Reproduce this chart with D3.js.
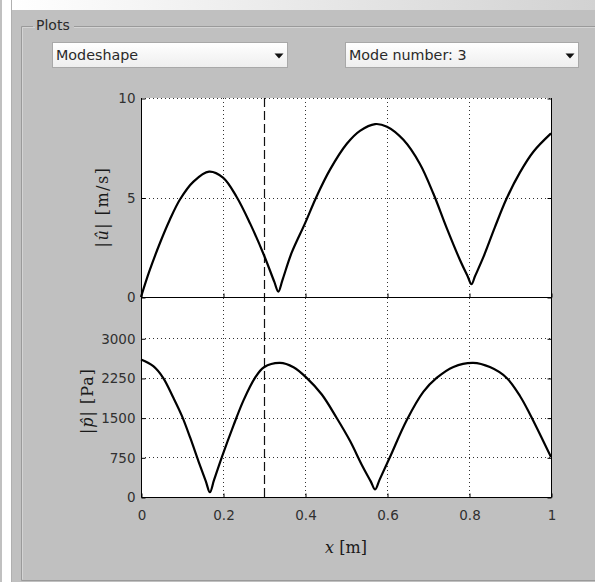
<!DOCTYPE html>
<html>
<head>
<meta charset="utf-8">
<script src="https://cdn.jsdelivr.net/npm/d3@7"></script>
<style>
  html, body { margin: 0; padding: 0; background: #c0c0c0; }
  svg { display: block; }
  .tick text { font-family: "DejaVu Sans", sans-serif; font-size: 13.5px; fill: #303030; }
</style>
</head>
<body>
<svg id="fig" width="595" height="582"></svg>
<script>
// Velocity amplitude |û| along the duct (m/s)
const xU   = [0, 0.02, 0.046, 0.07, 0.095, 0.128, 0.166, 0.2, 0.233, 0.266, 0.3, 0.325, 0.335, 0.345, 0.367, 0.4, 0.428, 0.461, 0.502, 0.534, 0.571, 0.6, 0.64, 0.68, 0.713, 0.745, 0.778, 0.797, 0.806, 0.815, 0.835, 0.863, 0.892, 0.924, 0.957, 1.0];
const uAbs = [0, 1.27, 2.7, 3.87, 4.9, 5.8, 6.3, 6.0, 5.04, 3.7, 2.1, 0.77, 0.27, 0.85, 2.2, 3.7, 5.04, 6.4, 7.7, 8.35, 8.69, 8.56, 7.9, 6.7, 5.2, 3.5, 1.86, 1.03, 0.64, 1.06, 2.0, 3.5, 4.96, 6.25, 7.3, 8.22];

// Pressure amplitude |p̂| along the duct (Pa)
const xP   = [0, 0.03, 0.054, 0.079, 0.1, 0.12, 0.14, 0.158, 0.168, 0.178, 0.197, 0.225, 0.25, 0.278, 0.3, 0.339, 0.372, 0.404, 0.441, 0.477, 0.51, 0.538, 0.56, 0.571, 0.582, 0.607, 0.648, 0.689, 0.721, 0.762, 0.81, 0.851, 0.892, 0.925, 0.949, 1.0];
const pAbs = [2597, 2472, 2252, 1874, 1528, 1120, 680, 300, 90, 317, 750, 1340, 1827, 2252, 2453, 2535, 2453, 2252, 1937, 1497, 1057, 616, 300, 142, 328, 750, 1450, 1990, 2250, 2459, 2535, 2455, 2250, 1900, 1560, 755];

// Axis ticks and the marked position
const xTicks = [0, 0.2, 0.4, 0.6, 0.8, 1];
const xTickLabels = ["0", "0.2", "0.4", "0.6", "0.8", "1"];
const uTicks = [0, 5, 10];
const pTicks = [0, 750, 1500, 2250, 3000];
const markerX = 0.3;

// Dropdown captions
const plotTypeLabel = "Modeshape";
const modeLabel = "Mode number: 3";

const svg = d3.select("#fig");
const defs = svg.append("defs");

// ---- window chrome ----
svg.append("rect").attr("x", 0).attr("y", 0).attr("width", 595).attr("height", 582).attr("fill", "#c0c0c0");
const topGrad = defs.append("linearGradient").attr("id", "topBand").attr("x1", 0).attr("x2", 1).attr("y1", 0).attr("y2", 0);
topGrad.append("stop").attr("offset", "0%").attr("stop-color", "#ffffff");
topGrad.append("stop").attr("offset", "100%").attr("stop-color", "#d2d2d2");
svg.append("rect").attr("x", 2).attr("y", 0).attr("width", 10).attr("height", 582).attr("fill", "#ffffff");
svg.append("rect").attr("x", 12).attr("y", 0).attr("width", 583).attr("height", 10).attr("fill", "url(#topBand)");
svg.append("line").attr("x1", 11.5).attr("x2", 11.5).attr("y1", 0).attr("y2", 582).attr("stroke", "#b0b0b0");

// "Plots" group box (etched frame)
const frame = svg.append("g");
frame.append("path").attr("d", "M 35 27.5 H 22.5 V 579.5").attr("fill", "none").attr("stroke", "#d4d4d4");
frame.append("path").attr("d", "M 33 26.5 H 21.5 V 580.5 H 595").attr("fill", "none").attr("stroke", "#9a9a9a");
frame.append("path").attr("d", "M 74 26.5 H 595").attr("fill", "none").attr("stroke", "#9a9a9a");
frame.append("path").attr("d", "M 74 27.5 H 595").attr("fill", "none").attr("stroke", "#d4d4d4");
frame.append("text").attr("x", 36).attr("y", 30)
  .attr("font-family", "DejaVu Sans, sans-serif").attr("font-size", 14).attr("fill", "#2a2a2a")
  .text("Plots");

// Dropdown boxes
const grad = defs.append("linearGradient").attr("id", "ddGrad").attr("x1", 0).attr("x2", 0).attr("y1", 0).attr("y2", 1);
grad.append("stop").attr("offset", "0%").attr("stop-color", "#ffffff");
grad.append("stop").attr("offset", "100%").attr("stop-color", "#eeeeee");

function dropdown(x, w, label) {
  const g = svg.append("g");
  g.append("rect").attr("x", x + 0.5).attr("y", 42.5).attr("width", w).attr("height", 25)
    .attr("fill", "url(#ddGrad)").attr("stroke", "#a8a8a8");
  g.append("text").attr("x", x + 4).attr("y", 60)
    .attr("font-family", "DejaVu Sans, sans-serif").attr("font-size", 14.3).attr("fill", "#2a2a2a")
    .text(label);
  const ax = x + w - 8;
  g.append("path").attr("d", `M ${ax - 4.5} 53.5 L ${ax + 4.5} 53.5 L ${ax} 58.5 Z`).attr("fill", "#111");
}
dropdown(52, 235, plotTypeLabel);
dropdown(345, 233, modeLabel);

// ---- plots ----
const left = 141, right = 551;
const x = d3.scaleLinear().domain([0, 1]).range([left, right]);
const yU = d3.scaleLinear().domain([0, 10]).range([297, 98]);
const yP = d3.scaleLinear().domain([0, 3780]).range([497, 297]);

svg.append("rect").attr("x", left).attr("y", 98).attr("width", right - left).attr("height", 399).attr("fill", "#ffffff");

const grid = svg.append("g").attr("stroke", "#333").attr("stroke-width", 1).attr("stroke-dasharray", "1,3");
// vertical grid through both panels
grid.selectAll("line.vx").data(xTicks.filter(d => d > 0 && d < 1)).join("line")
  .attr("x1", d => Math.round(x(d)) + 0.5).attr("x2", d => Math.round(x(d)) + 0.5)
  .attr("y1", 98).attr("y2", 497);
grid.selectAll("line.hu").data(uTicks.filter(d => d > 0)).join("line").attr("class", "hu")
  .attr("x1", left).attr("x2", right)
  .attr("y1", d => Math.round(yU(d)) + 0.5).attr("y2", d => Math.round(yU(d)) + 0.5);
grid.selectAll("line.hp").data(pTicks.filter(d => d > 0)).join("line").attr("class", "hp")
  .attr("x1", left).attr("x2", right)
  .attr("y1", d => Math.round(yP(d)) + 0.5).attr("y2", d => Math.round(yP(d)) + 0.5);

// dashed marker
svg.append("line")
  .attr("x1", Math.round(x(markerX)) + 0.5).attr("x2", Math.round(x(markerX)) + 0.5)
  .attr("y1", 98).attr("y2", 497)
  .attr("stroke", "#111").attr("stroke-width", 1.2).attr("stroke-dasharray", "9,4");

// curves
const smooth = d3.curveCatmullRom.alpha(0.5);
const lineU = d3.line().x((d, i) => x(xU[i])).y(d => yU(d)).curve(smooth);
const lineP = d3.line().x((d, i) => x(xP[i])).y(d => yP(d)).curve(smooth);
svg.append("path").attr("d", lineU(uAbs)).attr("fill", "none").attr("stroke", "#000").attr("stroke-width", 2.2).attr("stroke-linejoin", "round");
svg.append("path").attr("d", lineP(pAbs)).attr("fill", "none").attr("stroke", "#000").attr("stroke-width", 2.2).attr("stroke-linejoin", "round");

// axis frames
svg.append("path").attr("d", `M ${left + 0.5} 98 V 497.5 H ${right + 0.5} V 98`)
  .attr("fill", "none").attr("stroke", "#000");
svg.append("line").attr("x1", left).attr("x2", right + 1).attr("y1", 297.5).attr("y2", 297.5).attr("stroke", "#000");

// axes (ticks point inward)
svg.append("g").attr("transform", `translate(${left + 0.5},0.5)`)
  .call(d3.axisLeft(yU).tickValues(uTicks).tickFormat(d3.format("d")).tickSizeInner(-4).tickSizeOuter(0).tickPadding(6));
svg.append("g").attr("transform", `translate(${left + 0.5},0.5)`)
  .call(d3.axisLeft(yP).tickValues(pTicks).tickFormat(d3.format("d")).tickSizeInner(-4).tickSizeOuter(0).tickPadding(6));
svg.append("g").attr("transform", `translate(0.5,${497.5})`)
  .call(d3.axisBottom(x).tickValues(xTicks).tickFormat((d, i) => xTickLabels[i]).tickSizeInner(-4).tickSizeOuter(0).tickPadding(13));
// right-side inward ticks
svg.append("g").attr("transform", `translate(${right + 0.5},0.5)`)
  .call(d3.axisRight(yU).tickValues(uTicks).tickFormat("").tickSizeInner(-4).tickSizeOuter(0));
svg.append("g").attr("transform", `translate(${right + 0.5},0.5)`)
  .call(d3.axisRight(yP).tickValues(pTicks).tickFormat("").tickSizeInner(-4).tickSizeOuter(0));
// top panel x ticks on its baseline
svg.append("g").attr("transform", `translate(0.5,297.5)`)
  .call(d3.axisBottom(x).tickValues(xTicks).tickFormat("").tickSizeInner(-4).tickSizeOuter(0));
svg.selectAll(".domain").remove();
svg.selectAll(".tick line").attr("stroke", "#000");

// axis labels
const serif = "DejaVu Serif, serif";
const labU = svg.append("text").attr("transform", "translate(102,207) rotate(-90)")
  .attr("text-anchor", "middle").attr("dominant-baseline", "central")
  .attr("font-family", serif).attr("font-size", 16).attr("letter-spacing", 1.5).attr("fill", "#1a1a1a");
labU.append("tspan").text("|");
labU.append("tspan").attr("font-style", "italic").text("û");
labU.append("tspan").text("| [m/s]");

const labP = svg.append("text").attr("transform", "translate(87,401) rotate(-90)")
  .attr("text-anchor", "middle").attr("dominant-baseline", "central")
  .attr("font-family", serif).attr("font-size", 16).attr("letter-spacing", 1).attr("fill", "#1a1a1a");
labP.append("tspan").text("|");
labP.append("tspan").attr("font-style", "italic").text("p\u0302");
labP.append("tspan").text("| [Pa]");

const labX = svg.append("text").attr("x", 346).attr("y", 553)
  .attr("text-anchor", "middle").attr("font-family", serif).attr("font-size", 16).attr("fill", "#1a1a1a");
labX.append("tspan").attr("font-style", "italic").text("x");
labX.append("tspan").text(" [m]");
</script>
</body>
</html>
